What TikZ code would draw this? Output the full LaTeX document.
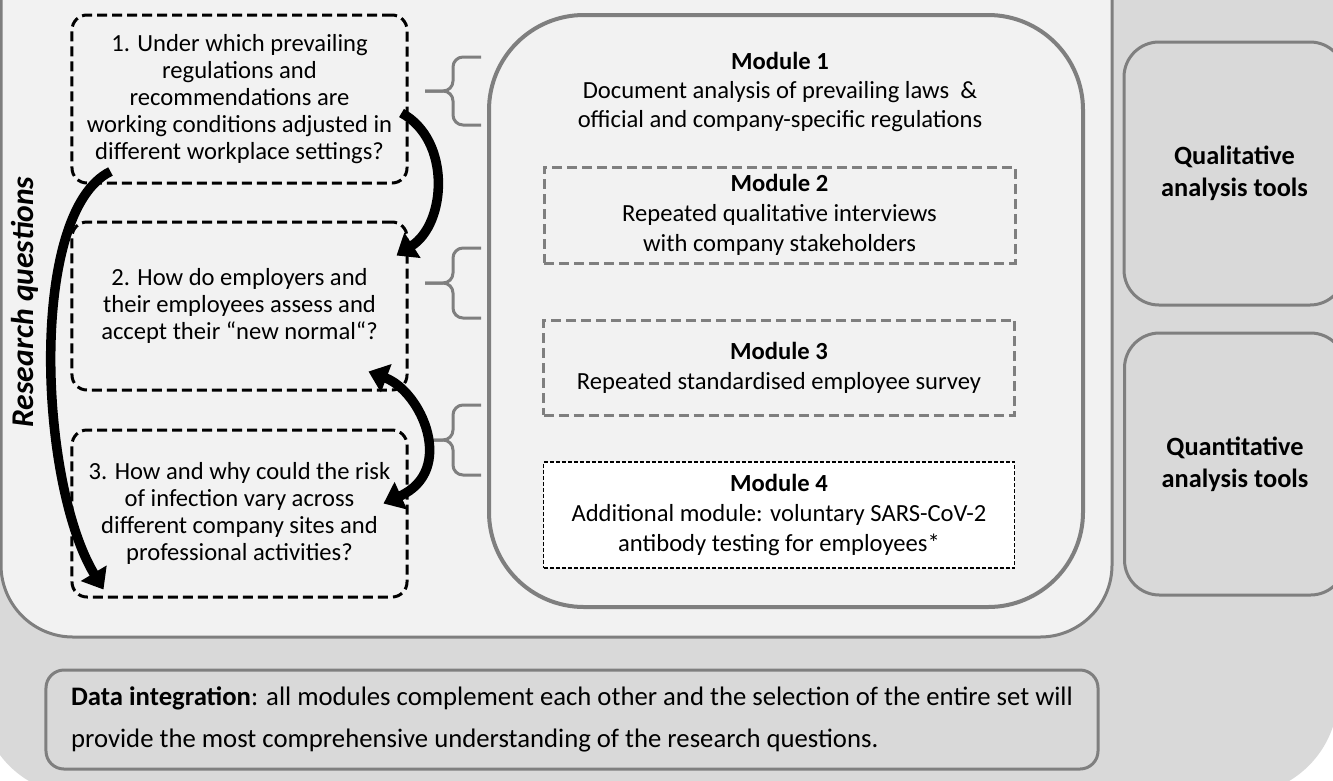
\documentclass[tikz,border=0pt]{standalone}
\usepackage{fontspec}
\setmainfont{Carlito}
\usetikzlibrary{arrows.meta, calc, positioning}
\definecolor{bggray}{HTML}{D9D9D9}
\definecolor{panelgray}{HTML}{F2F2F2}
\definecolor{edgegray}{HTML}{7F7F7F}
\tikzset{
    question/.style={
        rectangle,
        draw=black,
        line width=0.6mm,
        dash pattern=on 2mm off 1mm,
        rounded corners=3mm,
        minimum width=67mm,
        minimum height=33.6mm,
        inner sep=0pt,
        align=center,
        font=\fontsize{14}{15.4}\selectfont
    },
    module/.style={
        rectangle,
        draw=edgegray,
        line width=0.6mm,
        dash pattern=on 2mm off 1mm,
        minimum width=94.2mm,
        inner sep=0pt,
        align=center,
        font=\fontsize{14}{17}\selectfont
    },
    extramodule/.style={
        module,
        draw=black,
        fill=white,
        line width=0.25mm,
        dash pattern=on 0.8mm off 0.4mm
    },
    plainmodule/.style={
        inner sep=0pt,
        align=center,
        font=\fontsize{14}{16.6}\selectfont
    },
    tool/.style={
        rectangle,
        draw=edgegray,
        fill=bggray,
        line width=0.6mm,
        rounded corners=7mm,
        minimum width=44.2mm,
        minimum height=52.6mm,
        align=center,
        font=\fontsize{15}{18.2}\selectfont\bfseries
    },
    integration/.style={
        rectangle,
        draw=edgegray,
        fill=bggray,
        line width=0.6mm,
        rounded corners=3.6mm,
        minimum width=210.4mm,
        minimum height=19.8mm,
        align=left,
        font=\fontsize{15.2}{24}\selectfont
    },
    sidelabel/.style={
        rotate=90,
        font=\fontsize{18}{21}\selectfont\bfseries\itshape
    },
    panel/.style={
        draw=edgegray,
        fill=panelgray,
        line width=0.6mm,
        rounded corners=14.4mm
    },
    container/.style={
        draw=edgegray,
        fill=panelgray,
        line width=0.8mm,
        rounded corners=19mm
    },
    bracket/.style={
        draw=edgegray,
        line width=0.6mm,
        rounded corners=2mm
    },
    bigarrow/.style={
        -{Triangle[length=3.8mm,width=5.8mm]},
        line width=1.9mm
    },
    twoarrow/.style={
        {Triangle[length=3.8mm,width=5.8mm]}-{Triangle[length=3.8mm,width=5.8mm]},
        line width=1.9mm
    }
}

\begin{document}
\begin{tikzpicture}[x=0.2mm, y=-0.2mm]

    \useasboundingbox (0,0) rectangle (1333,780);
    \clip (0,0) rectangle (1333,780);
    \fill[white] (0,0) rectangle (1333,780);

    % Background
    \fill[bggray, rounded corners=20mm] (-20,-100) rectangle (1338,795);

    % Panel and module frame
    \draw[panel] (1,-100) rectangle (1112,637);
    \draw[container] (489,15) rectangle (1083,607);

    % Research questions
    \node[question] (q1) at (239.5,99) {1. Under which prevailing\\regulations and\\recommendations are\\working conditions adjusted in\\different workplace settings?};
    \node[question] (q2) at (239.5,306) {2. How do employers and\\their employees assess and\\accept their “new normal“?};
    \node[question, minimum height=33.4mm] (q3) at (239.5,513.5) {3. How and why could the risk\\of infection vary across\\different company sites and\\professional activities?};
    \node[sidelabel] (rq) at (25,302) {Research questions};

    % Modules
    \node[plainmodule] (m1) at (780,92) {\textbf{Module 1}\\Document analysis of prevailing laws \ \&\\official and company-specific regulations};
    \node[module, minimum height=19.2mm] (m2) at (779.5,215) {\textbf{Module 2}\\Repeated qualitative interviews\\with company stakeholders};
    \node[module, minimum height=19mm] (m3) at (779,367.5) {\textbf{Module 3}\\Repeated standardised employee survey};
    \node[extramodule, minimum height=21.2mm] (m4) at (779,515) {\textbf{Module 4}\\Additional module: voluntary SARS-CoV-2\\antibody testing for employees*};

    % Analysis tools
    \node[tool] (qual) at (1234.5,173.5) {Qualitative\\analysis tools};
    \node[tool, minimum height=52.4mm] (quant) at (1235,464) {Quantitative\\analysis tools};

    % Data integration
    \node[integration] (data) at (572,719.5) {\textbf{Data integration}: all modules complement each other and the selection of the entire set will\\provide the most comprehensive understanding of the research questions.};

    % Braces
    \draw[bracket] (481,57) -- (453,57) -- (453,91) -- (425,91);
    \draw[bracket] (481,125) -- (453,125) -- (453,91) -- (425,91);
    \draw[bracket] (481,248) -- (453,248) -- (453,283) -- (425,283);
    \draw[bracket] (481,318) -- (453,318) -- (453,283) -- (425,283);
    \draw[bracket] (481,405) -- (453,405) -- (453,440) -- (425,440);
    \draw[bracket] (481,475) -- (453,475) -- (453,440) -- (425,440);

    % Arrows between questions
    \draw[bigarrow] ($(q1.east)+(-7,14)$) .. controls +(50,27) and +(50,-32) .. ($(q2.north east)+(-12,35)$);
    \draw[twoarrow] ($(q2.south east)+(-40,-20)$) .. controls +(53,20) and +(73,-33) .. ($(q3.east)+(-25,-10)$);
    \draw[bigarrow] ($(q1.south west)+(40,-13)$) .. controls +(-82,40) and +(-65,-108) .. ($(q3.south west)+(33,-9)$);

\end{tikzpicture}
\end{document}
